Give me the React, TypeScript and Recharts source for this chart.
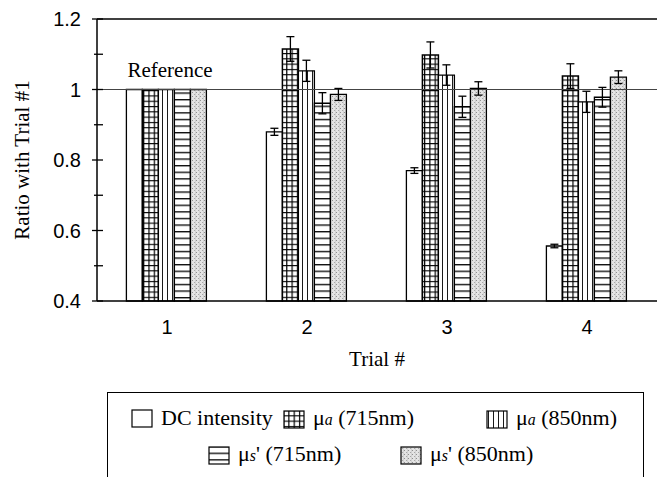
import React from 'react';
import {
  Bar,
  BarChart,
  ErrorBar,
  Legend,
  ReferenceDot,
  ReferenceLine,
  XAxis,
  YAxis,
} from 'recharts';

const trials = ['1', '2', '3', '4'];

const dcIntensity = [1, 0.88, 0.77, 0.556];
const dcErr = [null, 0.01, 0.008, 0.005];
const muA715 = [1, 1.115, 1.098, 1.038];
const muA715Err = [null, 0.035, 0.037, 0.035];
const muA850 = [1, 1.053, 1.041, 0.965];
const muA850Err = [null, 0.03, 0.029, 0.03];
const muS715 = [1, 0.961, 0.951, 0.978];
const muS715Err = [null, 0.03, 0.03, 0.028];
const muS850 = [1, 0.986, 1.003, 1.035];
const muS850Err = [null, 0.017, 0.019, 0.018];

const yTicks = [0.4, 0.5, 0.6, 0.7, 0.8, 0.9, 1, 1.1, 1.2];
const yLabels = ['0.4', '', '0.6', '', '0.8', '', '1', '', '1.2'];

const data = trials.map((trial, i) => ({
  trial,
  dc: dcIntensity[i],
  dcErr: dcErr[i],
  a715: muA715[i],
  a715Err: muA715Err[i],
  a850: muA850[i],
  a850Err: muA850Err[i],
  s715: muS715[i],
  s715Err: muS715Err[i],
  s850: muS850[i],
  s850Err: muS850Err[i],
}));

const serif = '"Liberation Serif", "Times New Roman", serif';
const sans = '"Liberation Sans", Arial, sans-serif';

function YTick(props: any) {
  const { x, y, index } = props;
  const label = yLabels[index];
  const major = label !== '';
  return (
    <g>
      <line x1={x - (major ? 5 : 3)} x2={x + 6} y1={y} y2={y} stroke="#000" strokeWidth={1.3} />
      {major && (
        <text x={x - 16} y={y} dy="0.36em" textAnchor="end" fontFamily={sans} fontSize={20} fill="#000">
          {label}
        </text>
      )}
    </g>
  );
}

const Mu = ({ sub, prime }: { sub: string; prime?: boolean }) => (
  <span>
    μ<i style={{ fontSize: '0.72em' }}>{sub}</i>
    {prime ? "'" : ''}
  </span>
);

const legendItems = [
  { fill: '#fff', left: 23, top: 13, label: <span>DC intensity</span> },
  { fill: 'url(#grid)', left: 175, top: 13, label: <span><Mu sub="a" /> (715nm)</span> },
  { fill: 'url(#vlines)', left: 378, top: 13, label: <span><Mu sub="a" /> (850nm)</span> },
  { fill: 'url(#hlines)', left: 100, top: 49, label: <span><Mu sub="s" prime /> (715nm)</span> },
  { fill: 'url(#stipple)', left: 292, top: 49, label: <span><Mu sub="s" prime /> (850nm)</span> },
];

function LegendBox() {
  return (
    <div
      style={{
        position: 'relative',
        width: 537,
        height: 85,
        borderTop: '1.5px solid #000',
        borderLeft: '1.5px solid #000',
        borderRight: '1.5px solid #000',
        boxSizing: 'border-box',
        fontFamily: serif,
        fontSize: 22,
        color: '#000',
      }}
    >
      {legendItems.map((it, i) => (
        <div
          key={i}
          style={{ position: 'absolute', left: it.left, top: it.top, display: 'flex', alignItems: 'center', whiteSpace: 'nowrap', lineHeight: '24px' }}
        >
          <svg width={22} height={19} style={{ marginRight: 8 }}>
            <rect x={1} y={1} width={20} height={17} fill={it.fill} stroke="#000" strokeWidth={1.2} />
          </svg>
          {it.label}
        </div>
      ))}
    </div>
  );
}

export default function App() {
  document.body.style.margin = '0';
  return (
    <div style={{ width: 657, height: 477, background: '#fff' }}>
      <svg width={0} height={0} style={{ position: 'absolute' }}>
        <defs>
          <pattern id="grid" width={5.3} height={5.3} patternUnits="userSpaceOnUse">
            <rect width={5.3} height={5.3} fill="#fff" />
            <path d="M0 0.6 H5.3 M0.6 0 V5.3" stroke="#000" strokeWidth={1.2} />
          </pattern>
          <pattern id="vlines" width={5} height={5} patternUnits="userSpaceOnUse">
            <rect width={5} height={5} fill="#fff" />
            <path d="M2.5 0 V5" stroke="#000" strokeWidth={0.9} />
          </pattern>
          <pattern id="hlines" width={6.6} height={6.6} patternUnits="userSpaceOnUse">
            <rect width={6.6} height={6.6} fill="#fff" />
            <path d="M0 0.7 H6.6" stroke="#000" strokeWidth={1.3} />
          </pattern>
          <pattern id="stipple" width={4} height={4} patternUnits="userSpaceOnUse">
            <rect width={4} height={4} fill="#e4e4e4" />
            <rect x={0} y={0} width={1} height={1} fill="#909090" />
            <rect x={2} y={2} width={1} height={1} fill="#a8a8a8" />
            <rect x={3} y={0} width={1} height={4} fill="#d2d2d2" />
          </pattern>
        </defs>
      </svg>
      <BarChart
        width={657}
        height={477}
        data={data}
        margin={{ top: 19, right: 0, left: 0, bottom: 21 }}
        barCategoryGap="21%"
        barGap={0}
      >
        <XAxis
          dataKey="trial"
          height={70}
          tickLine={false}
          tickSize={0}
          tickMargin={19}
          axisLine={{ stroke: '#000', strokeWidth: 1.5 }}
          tick={{ fontFamily: sans, fontSize: 20, fill: '#000' }}
          label={{ value: 'Trial #', position: 'insideBottom', offset: 5, fontFamily: serif, fontSize: 21, fill: '#000' }}
        />
        <YAxis
          width={97}
          domain={[0.4, 1.2]}
          ticks={yTicks}
          interval={0}
          tickLine={false}
          tickSize={0}
          tickMargin={0}
          axisLine={{ stroke: '#000', strokeWidth: 1.5 }}
          tick={<YTick />}
          label={{
            value: 'Ratio with Trial #1',
            angle: -90,
            position: 'insideLeft',
            offset: 22,
            style: { textAnchor: 'middle' },
            fontFamily: serif,
            fontSize: 21,
            fill: '#000',
          }}
        />
        <ReferenceLine y={1} stroke="#444" strokeWidth={1} />
        <ReferenceLine y={1.2} stroke="#000" strokeWidth={1.5} />
        <ReferenceDot
          x="1"
          y={1}
          r={1}
          fill="none"
          stroke="none"
          label={{ value: 'Reference', position: 'top', offset: 12, dx: 3, fontFamily: serif, fontSize: 21, fill: '#000' }}
        />
        <Bar dataKey="dc" fill="#fff" stroke="#000" strokeWidth={1.3} isAnimationActive={false}>
          <ErrorBar dataKey="dcErr" width={4} stroke="#000" strokeWidth={1.3} />
        </Bar>
        <Bar dataKey="a715" fill="url(#grid)" stroke="#000" strokeWidth={1.5} isAnimationActive={false}>
          <ErrorBar dataKey="a715Err" width={4} stroke="#000" strokeWidth={1.3} />
        </Bar>
        <Bar dataKey="a850" fill="url(#vlines)" stroke="#000" strokeWidth={1.3} isAnimationActive={false}>
          <ErrorBar dataKey="a850Err" width={4} stroke="#000" strokeWidth={1.3} />
        </Bar>
        <Bar dataKey="s715" fill="url(#hlines)" stroke="#000" strokeWidth={1.3} isAnimationActive={false}>
          <ErrorBar dataKey="s715Err" width={4} stroke="#000" strokeWidth={1.3} />
        </Bar>
        <Bar dataKey="s850" fill="url(#stipple)" stroke="#000" strokeWidth={1.3} isAnimationActive={false}>
          <ErrorBar dataKey="s850Err" width={4} stroke="#000" strokeWidth={1.3} />
        </Bar>
        <Legend
          content={() => <LegendBox />}
          wrapperStyle={{ position: 'absolute', left: 107, top: 392, width: 537, height: 85 }}
        />
      </BarChart>
    </div>
  );
}
